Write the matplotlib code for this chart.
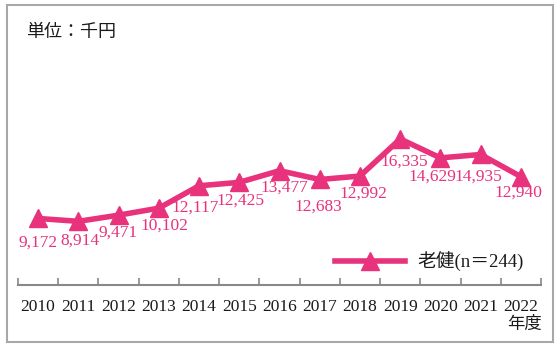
import matplotlib
matplotlib.use("Agg")
import matplotlib.pyplot as plt
from matplotlib.patches import Rectangle

years = ["2010", "2011", "2012", "2013", "2014", "2015", "2016",
         "2017", "2018", "2019", "2020", "2021", "2022"]
values = [9172, 8914, 9471, 10102, 12117, 12425, 13477,
          12683, 12992, 16335, 14629, 14935, 12940]
series_name = "老健(n＝244)"

# label offsets from each point, in pixels (right, down)
label_offsets = [(0, 24), (2, 19), (-1, 17), (6, 17), (-4, 22), (1, 18), (5, 17),
                 (-1, 27), (3, 18), (4, 23), (-8, 19), (-2, 22), (-2, 16)]

PINK = "#E8327C"
plt.rcParams['font.family'] = ['Liberation Serif', 'Noto Sans CJK JP']

W, H = 560, 350
fig = plt.figure(figsize=(W / 100, H / 100), dpi=100)
ax = fig.add_axes([18 / W, 65 / H, 523 / W, 280 / H])

fig.patches.append(Rectangle((7 / W, 8 / H), 546 / W, 337 / H, transform=fig.transFigure,
                             fill=False, edgecolor="#a8a8a8", linewidth=1.5))

x = list(range(len(years)))
ax.plot(x, values, color=PINK, linewidth=4, marker="^", markersize=13,
        label=series_name, solid_joinstyle="miter")

px = 72 / 100
for i, v in enumerate(values):
    dx, dy = label_offsets[i]
    ax.annotate(f"{v:,}", (i, v), xytext=(dx * px, -dy * px), textcoords="offset points",
                ha="center", va="center", color=PINK, fontsize=12.5)

ax.set_xlim(-0.5, len(years) - 0.5)
ax.set_ylim(3180, 28400)
ax.set_xticks(x)
ax.set_xticklabels(years, fontsize=12.5, color="#1a1a1a")
ax.set_xticks([i - 0.5 for i in range(len(years) + 1)], minor=True)
ax.tick_params(axis="x", which="major", length=0, pad=10)
ax.tick_params(axis="x", which="minor", length=5, width=1.2, direction="in", color="#888888")
ax.set_yticks([])
for s in ["left", "right", "top"]:
    ax.spines[s].set_visible(False)
ax.spines["bottom"].set_color("#888888")
ax.spines["bottom"].set_linewidth(1.5)

fig.text(26 / W, 1 - 33 / H, "単位：千円", fontsize=13, va="center", ha="left", color="#1a1a1a")
fig.text(542 / W, 1 - 325 / H, "年度", fontsize=12.5, va="center", ha="right", color="#1a1a1a")

leg = ax.legend(loc="center right", bbox_to_anchor=(524 / W, 1 - 262 / H),
                bbox_transform=fig.transFigure, frameon=False, fontsize=13.5,
                handlelength=3.7, handletextpad=0.7, borderpad=0, borderaxespad=0)
for t in leg.get_texts():
    t.set_color("#1a1a1a")

fig.savefig("out.png", dpi=100)
